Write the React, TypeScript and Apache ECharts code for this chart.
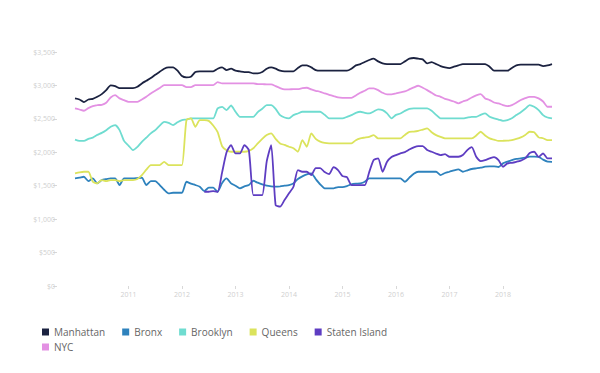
import React, { useEffect, useRef } from "react";
import * as echarts from "echarts";

const startYear = 2010;
const yearTicks = [2011, 2012, 2013, 2014, 2015, 2016, 2017, 2018];
const boroughs = ["Manhattan", "Bronx", "Brooklyn", "Queens", "Staten Island", "NYC"];
const colors = ["#1b2240", "#2e82bd", "#6fdcd0", "#dbe35c", "#5e3dc2", "#e391e3"];

const manhattan = [
  2806, 2790, 2750, 2790, 2800, 2830, 2870, 2930, 3000, 2990,
  2960, 2960, 2960, 2960, 2980, 3030, 3070, 3110, 3160, 3204,
  3250, 3270, 3270, 3220, 3140, 3120, 3130, 3200, 3210, 3210,
  3210, 3210, 3250, 3270, 3230, 3250, 3220, 3210, 3200, 3200,
  3180, 3180, 3200, 3250, 3270, 3250, 3220, 3210, 3210, 3210,
  3260, 3300, 3300, 3270, 3230, 3220, 3220, 3220, 3220, 3220,
  3220, 3220, 3250, 3300, 3320, 3350, 3380, 3400, 3360, 3330,
  3320, 3320, 3320, 3320, 3360, 3400, 3410, 3400, 3390, 3330,
  3350, 3320, 3290, 3270, 3260, 3280, 3300, 3320, 3320, 3320,
  3320, 3320, 3320, 3280, 3220, 3220, 3220, 3220, 3260, 3300,
  3310, 3310, 3310, 3310, 3310, 3290, 3300, 3320,
];

const bronx = [
  1610, 1620, 1634, 1570, 1610, 1535, 1585, 1600, 1610, 1610,
  1510, 1610, 1610, 1610, 1615, 1619, 1510, 1570, 1570, 1510,
  1440, 1386, 1395, 1395, 1395, 1559, 1530, 1510, 1485, 1420,
  1470, 1470, 1410, 1540, 1610, 1535, 1500, 1461, 1490, 1510,
  1574, 1545, 1520, 1500, 1490, 1485, 1490, 1500, 1510, 1535,
  1600, 1640, 1670, 1685, 1600, 1520, 1461, 1461, 1461, 1480,
  1480, 1495, 1520, 1530, 1535, 1560, 1610, 1610, 1610, 1610,
  1610, 1610, 1610, 1610, 1559, 1620, 1680, 1709, 1709, 1709,
  1709, 1709, 1659, 1690, 1709, 1730, 1745, 1709, 1730, 1750,
  1760, 1770, 1784, 1790, 1790, 1780, 1834, 1860, 1884, 1900,
  1909, 1920, 1935, 1935, 1933, 1890, 1860, 1858,
];

const brooklyn = [
  2190, 2170, 2170, 2200, 2220, 2260, 2290, 2330, 2382, 2407,
  2332, 2170, 2100, 2033, 2080, 2157, 2220, 2283, 2332, 2400,
  2456, 2440, 2407, 2450, 2482, 2490, 2507, 2507, 2507, 2507,
  2507, 2507, 2657, 2680, 2631, 2700, 2606, 2531, 2531, 2531,
  2531, 2600, 2650, 2706, 2706, 2650, 2556, 2520, 2507, 2556,
  2580, 2606, 2606, 2606, 2606, 2606, 2560, 2507, 2507, 2507,
  2507, 2530, 2556, 2590, 2606, 2590, 2582, 2610, 2642, 2630,
  2582, 2507, 2560, 2580, 2620, 2650, 2657, 2657, 2657, 2657,
  2620, 2560, 2507, 2507, 2507, 2507, 2507, 2507, 2520, 2531,
  2531, 2560, 2582, 2531, 2507, 2490, 2471, 2482, 2510, 2556,
  2600, 2650, 2706, 2680, 2631, 2556, 2520, 2507,
];

const queens = [
  1685, 1700, 1709, 1709, 1559, 1535, 1585, 1570, 1585, 1585,
  1570, 1585, 1585, 1585, 1600, 1659, 1740, 1809, 1809, 1809,
  1858, 1809, 1809, 1809, 1809, 2482, 2507, 2382, 2480, 2480,
  2470, 2400, 2300, 2090, 2030, 2008, 2008, 2008, 2008, 2020,
  2060, 2133, 2200, 2257, 2283, 2200, 2133, 2110, 2083, 2060,
  2008, 2183, 2083, 2283, 2200, 2160, 2140, 2133, 2133, 2133,
  2133, 2133, 2133, 2180, 2208, 2220, 2232, 2257, 2208, 2208,
  2208, 2208, 2208, 2208, 2260, 2307, 2310, 2320, 2340, 2358,
  2300, 2257, 2230, 2208, 2208, 2208, 2208, 2208, 2208, 2208,
  2250, 2307, 2250, 2208, 2190, 2170, 2172, 2175, 2183, 2200,
  2223, 2260, 2307, 2300, 2223, 2210, 2183, 2183,
];

const statenIsland = [
  null, null, null, null, null, null, null, null, null, null,
  null, null, null, null, null, null, null, null, null, null,
  null, null, null, null, null, null, null, null, null, 1410,
  1410, 1420, 1410, 1700, 2000, 2108, 1984, 1984, 2108, 2030,
  1360, 1360, 1360, 1860, 2108, 1211, 1186, 1286, 1386, 1485,
  1734, 1709, 1709, 1659, 1764, 1764, 1704, 1674, 1779, 1734,
  1644, 1629, 1510, 1510, 1510, 1510, 1704, 1884, 1909, 1709,
  1858, 1929, 1958, 1984, 2003, 2041, 2074, 2093, 2093, 2033,
  2008, 1981, 1958, 1973, 1933, 1933, 1933, 1958, 2033, 2078,
  1933, 1869, 1884, 1909, 1929, 1884, 1784, 1834, 1843, 1858,
  1876, 1909, 1988, 2008, 1930, 1984, 1909, 1909,
];

const nyc = [
  2657, 2640, 2621, 2660, 2690, 2706, 2710, 2740, 2820, 2855,
  2806, 2780, 2755, 2755, 2755, 2790, 2830, 2881, 2920, 2960,
  3005, 3005, 3005, 3005, 3005, 2975, 2975, 3005, 3005, 3005,
  3005, 3005, 3050, 3030, 3030, 3030, 3030, 3030, 3030, 3030,
  3030, 3020, 3020, 3015, 3015, 2990, 2960, 2941, 2941, 2945,
  2945, 2960, 2965, 2940, 2920, 2905, 2880, 2860, 2840, 2820,
  2815, 2815, 2815, 2850, 2890, 2920, 2956, 2956, 2930, 2890,
  2866, 2866, 2880, 2895, 2910, 2940, 2970, 2995, 2965, 2930,
  2890, 2850, 2830, 2800, 2781, 2760, 2731, 2760, 2781, 2820,
  2850, 2870, 2806, 2781, 2745, 2731, 2706, 2690, 2706, 2740,
  2781, 2810, 2830, 2830, 2806, 2760, 2681, 2681,
];

const seriesValues = [manhattan, bronx, brooklyn, queens, statenIsland, nyc];

export default function App() {
  const ref = useRef<HTMLDivElement>(null);

  useEffect(() => {
    document.body.style.margin = "0";
    if (!ref.current) return;
    const chart = echarts.init(ref.current, null, { renderer: "svg" });
    const monthX = (i: number) => startYear + i / 12;
    const maxX = monthX(manhattan.length - 1);
    const legendCommon = {
      orient: "horizontal",
      icon: "rect",
      itemWidth: 7,
      itemHeight: 7,
      itemGap: 17,
      padding: 0,
      textStyle: { fontSize: 10, color: "#666", fontFamily: "Open Sans" },
    };
    chart.setOption({
      animation: false,
      backgroundColor: "#ffffff",
      color: colors,
      textStyle: { fontFamily: "Open Sans" },
      grid: { left: 75, right: 48, top: 52, bottom: 87 },
      legend: [
        { ...legendCommon, left: 42, top: 327, data: boroughs.slice(0, 5) },
        { ...legendCommon, left: 42, top: 342, data: boroughs.slice(5) },
      ],
      xAxis: {
        type: "value",
        min: startYear,
        max: maxX,
        interval: 1,
        axisLine: { show: false },
        splitLine: { show: false },
        axisTick: {
          show: true,
          length: 3,
          customValues: yearTicks,
          lineStyle: { color: "#d8d8d8" },
        },
        axisLabel: {
          customValues: yearTicks,
          color: "#cfcfcf",
          fontSize: 7,
          margin: 5,
          formatter: (v: number) => String(v),
        },
      },
      yAxis: {
        type: "value",
        min: 0,
        max: 3500,
        interval: 500,
        offset: 18,
        axisLine: { show: false },
        splitLine: { show: false },
        axisTick: { show: true, length: 4, lineStyle: { color: "#d8d8d8" } },
        axisLabel: {
          color: "#cfcfcf",
          fontSize: 7,
          margin: 2,
          formatter: (v: number) => "$" + v.toLocaleString("en-US"),
        },
      },
      series: boroughs.map((name, k) => ({
        name,
        type: "line",
        smooth: 0.2,
        showSymbol: false,
        symbol: "none",
        connectNulls: false,
        lineStyle: { width: 1.8, color: colors[k] },
        itemStyle: { color: colors[k] },
        data: seriesValues[k].map((v, i) => [monthX(i), v == null ? "-" : v]),
      })),
    });
    return () => chart.dispose();
  }, []);

  return <div ref={ref} style={{ width: 600, height: 373 }} />;
}
